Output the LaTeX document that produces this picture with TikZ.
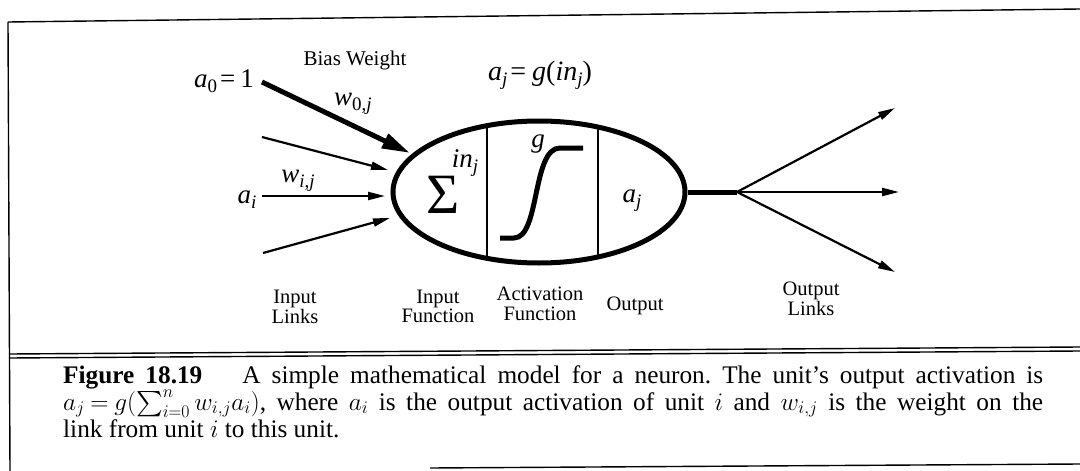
\RequirePackage{fix-cm}
\documentclass[tikz,border=0pt]{standalone}
\usepackage{amsmath}
\usepackage[no-math]{fontspec}
\setmainfont{Liberation Serif}
\DeclareFontShape{OMX}{cmex}{m}{n}{<->cmex10}{}
\usetikzlibrary{shapes.geometric,arrows.meta}
\newcommand\mysub[1]{\raisebox{-5pt}{\fontsize{19}{19}\selectfont #1}}
\frenchspacing
\begin{document}
\begin{tikzpicture}[x=1pt,y=-1pt,
  lbl/.style={font=\fontsize{20.5}{19.5}\selectfont, inner sep=0, anchor=base},
  mlbl/.style={font=\fontsize{27}{27}\selectfont, inner sep=0, anchor=base},
  captext/.style={font=\fontsize{25.3}{27}\selectfont, inner sep=0, anchor=base west},
  link/.style={line width=2.2pt, -{Triangle[length=17pt,width=8pt]}},
  biaslink/.style={line width=5pt, -{Triangle[length=28pt,width=15pt]}},
  frameline/.style={line width=1.4pt},
  thickline/.style={line width=5pt}
]
\useasboundingbox (0,0) rectangle (1080,471);

% frame
\draw[frameline] (8,22) -- (1080,9);
\draw[frameline] (8,22) -- (10,471);
\draw[frameline] (9,354) -- (1080,347);
\draw[frameline] (9,358) -- (1080,351);
\draw[frameline] (430,468) -- (1080,464);

% neuron
\node (neuron) [draw, ellipse, line width=5pt, minimum width=292pt, minimum height=142pt, inner sep=0] at (539,192) {};
\begin{scope}
  \clip (539,192) ellipse [x radius=146pt, y radius=71pt];
  \draw[line width=2.2pt] (487,100) -- (487,300);
  \draw[line width=2.2pt] (598,100) -- (598,300);
\end{scope}
\draw[line width=5pt] (500,238) -- (514,238) .. controls (540,238) and (532,148) .. (560,148) -- (583,148);

\node[font=\fontsize{57}{57}\selectfont, inner sep=0, anchor=base] (sigma) at (443,213) {Σ};
\node[mlbl] (inj) at (465,167) {\textit{in}\mysub{\textit{j}}};
\node[mlbl] (g) at (538,147) {\textit{g}};
\node[mlbl] (aj) at (632,202) {\textit{a}\mysub{\textit{j}}};

% top labels
\node[mlbl] (a0) at (224,87) {\textit{a}\mysub{0}\hspace{3pt}=\hspace{5pt}1};
\node[font=\fontsize{21}{21}\selectfont, inner sep=0, anchor=base] (bias) at (355,65) {Bias Weight};
\node[mlbl] (w0j) at (353,105) {\textit{w}\mysub{0,\textit{j}}};
\node[mlbl, font=\fontsize{28}{28}\selectfont] (ajg) at (540,80) {\textit{a}\mysub{\textit{j}}\hspace{3pt}=\hspace{6pt}\textit{g}(\textit{in}\mysub{\textit{j}})};
\node[mlbl] (wij) at (298,182) {\textit{w}\mysub{\textit{i},\textit{j}}};
\node[mlbl] (ai) at (247,203) {\textit{a}\mysub{\textit{i}}};

% input links
\coordinate (s0) at (262,82);  \coordinate (t0) at (410,153);
\coordinate (s1) at (262,137); \coordinate (t1) at (388,170);
\coordinate (s2) at (262,196); \coordinate (t2) at (385,196);
\coordinate (s3) at (263,253); \coordinate (t3) at (390,218);
\draw[biaslink] (s0) -- (t0);
\draw[link] (s1) -- (t1);
\draw[link] (s2) -- (t2);
\draw[link] (s3) -- (t3);

% output links
\coordinate (junc) at (737,192);
\coordinate (o1) at (895,108);
\coordinate (o2) at (899,192);
\coordinate (o3) at (895,272);
\draw[thickline] (neuron.east) -- (junc);
\draw[link] (junc) -- (o1);
\draw[link] (junc) -- (o2);
\draw[link] (junc) -- (o3);

% bottom labels
\node[lbl] (il1) at (295,303) {Input};
\node[lbl] (il2) at (295,323) {Links};
\node[lbl] (if1) at (438,303) {Input};
\node[lbl] (if2) at (438,322) {Function};
\node[lbl] (af1) at (540,300) {Activation};
\node[lbl] (af2) at (540,320) {Function};
\node[lbl] (out) at (635,310) {Output};
\node[lbl] (ol1) at (811,295) {Output};
\node[lbl] (ol2) at (811,315) {Links};

% caption
\node[captext] (cap1) at (63,383) {\hbox to 980pt{\textbf{Figure 18.19}\hspace{40pt}A simple mathematical model for a neuron. The unit’s output activation is}};
\node[captext] (cap2) at (63,410) {\hbox to 980pt{\smash{$a_j\mskip4mu{=}\mskip4mu g(\sum_{i=0}^n w_{i,j} a_i)$}, where $a_i$ is the output activation of unit $i$ and $w_{i,j}$ is the weight on the}};
\node[captext] (cap3) at (63,437) {link from unit $i$ to this unit.};
\end{tikzpicture}
\end{document}
